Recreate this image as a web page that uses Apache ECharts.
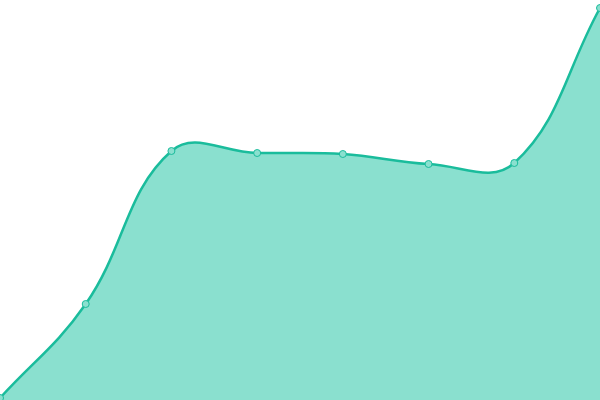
<!DOCTYPE html>
<html>
  <head>
    <meta charset="utf-8" />
    <title>ECharts</title>
    <script src="https://cdn.jsdelivr.net/npm/echarts/dist/echarts.min.js"></script>
    <style>
      html, body { margin: 0; padding: 0; background: #fff; }
    </style>
  </head>
  <body>
    <div id="main" style="width: 600px; height: 400px;"></div>
    <script type="text/javascript">
      var myChart = echarts.init(document.getElementById('main'));

      var categorias = ['1', '2', '3', '4', '5', '6', '7', '8'];
      var valores = [2, 96, 249, 247, 246, 236, 237, 392];

      var tensao = 0.4;

      // curva spline com tensão (com overshoot, sem clamp)
      function pontosControle(pts) {
        var cps = [];
        for (var i = 0; i < pts.length; i++) {
          var prev = pts[i - 1] || pts[i];
          var cur = pts[i];
          var next = pts[i + 1] || pts[i];
          var d01 = Math.hypot(cur[0] - prev[0], cur[1] - prev[1]);
          var d12 = Math.hypot(next[0] - cur[0], next[1] - cur[1]);
          var tot = d01 + d12 || 1;
          var fa = tensao * d01 / tot;
          var fb = tensao * d12 / tot;
          cps.push({
            antes: [cur[0] - fa * (next[0] - prev[0]), cur[1] - fa * (next[1] - prev[1])],
            depois: [cur[0] + fb * (next[0] - prev[0]), cur[1] + fb * (next[1] - prev[1])]
          });
        }
        return cps;
      }

      function renderCurva(params, api) {
        if (params.dataIndex !== 0) return null;
        var pts = valores.map(function (v, i) { return api.coord([i, v]); });
        var cps = pontosControle(pts);
        var d = 'M' + pts[0][0] + ' ' + pts[0][1];
        for (var i = 1; i < pts.length; i++) {
          var a = cps[i - 1].depois, b = cps[i].antes;
          d += ' C' + a[0] + ' ' + a[1] + ' ' + b[0] + ' ' + b[1] + ' ' + pts[i][0] + ' ' + pts[i][1];
        }
        var base = api.coord([0, 0])[1];
        var area = d + ' L' + pts[pts.length - 1][0] + ' ' + base + ' L' + pts[0][0] + ' ' + base + ' Z';
        return {
          type: 'group',
          children: [
            { type: 'path', shape: { pathData: area }, style: { fill: '#8ae0cf', stroke: null } },
            { type: 'path', shape: { pathData: d }, style: { fill: null, stroke: '#1abc9c', lineWidth: 2.5 } }
          ]
        };
      }

      var option = {
        animation: false,
        grid: { top: 0, bottom: 0, left: 0, right: 0 },
        xAxis: {
          type: 'category',
          boundaryGap: false,
          show: false,
          data: categorias
        },
        yAxis: {
          type: 'value',
          min: 0,
          max: 400,
          show: false
        },
        series: [
          {
            type: 'custom',
            renderItem: renderCurva,
            clip: false,
            data: valores.map(function (v, i) { return [i, v]; }),
            z: 1
          },
          {
            type: 'line',
            data: valores,
            symbol: 'circle',
            symbolSize: 7,
            lineStyle: { width: 0, opacity: 0 },
            itemStyle: { color: '#8ae0cf', borderColor: '#1abc9c', borderWidth: 1 },
            z: 2
          }
        ]
      };

      myChart.setOption(option);
    </script>
  </body>
</html>
